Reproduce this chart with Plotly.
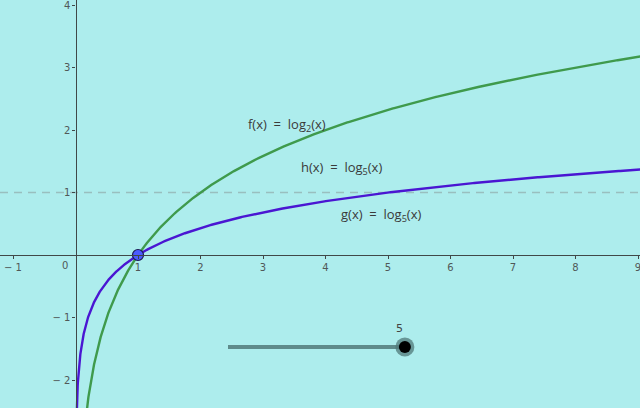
import numpy as np
import plotly.graph_objects as go

# ---- data ----
x_ticks = [-1, 1, 2, 3, 4, 5, 6, 7, 8, 9]
x_tick_labels = ["− 1", "1", "2", "3", "4", "5", "6", "7", "8", "9"]
y_ticks = [-2, -1, 1, 2, 3, 4]
y_tick_labels = ["− 2", "− 1", "1", "2", "3", "4"]
f_base = 2
g_base = 5
x_samples = np.concatenate([np.linspace(0.01, 1, 400), np.linspace(1, 9.1, 400)])
f_values = np.log(x_samples) / np.log(f_base)
g_values = np.log(x_samples) / np.log(g_base)
point_x = [1]
point_y = [0]
asymptote_y = 1
slider_value = 5
slider_start = 2.44
slider_end = 5.27
slider_y = -1.472

X_RANGE = [-1.208, 9.032]
Y_RANGE = [-2.448, 4.08]

BG = "#ADEDED"
GREEN = "#3F9A4C"
BLUE = "#4A16D2"
AXIS = "#404848"
TXT = "#3a3a3a"

fig = go.Figure()

# dashed line y = 1
fig.add_trace(go.Scatter(x=X_RANGE, y=[asymptote_y, asymptote_y], mode="lines",
                         line=dict(color="rgba(140,160,160,0.6)", width=1.5, dash="8px,6px"),
                         hoverinfo="skip", showlegend=False))

fig.add_trace(go.Scatter(x=x_samples, y=f_values, mode="lines",
                         line=dict(color=GREEN, width=2.4), showlegend=False))
fig.add_trace(go.Scatter(x=x_samples, y=g_values, mode="lines",
                         line=dict(color=BLUE, width=2.4), showlegend=False))

fig.add_trace(go.Scatter(x=point_x, y=point_y, mode="markers",
                         marker=dict(size=11, color="#4B5BFF", line=dict(color="#1a1a50", width=1.2)),
                         showlegend=False))

# slider
fig.add_trace(go.Scatter(x=[slider_start, slider_end], y=[slider_y, slider_y], mode="lines",
                         line=dict(color="#5E8B8B", width=4), showlegend=False, hoverinfo="skip"))
fig.add_trace(go.Scatter(x=[slider_end], y=[slider_y], mode="markers",
                         marker=dict(size=19, color="rgba(80,120,120,0.75)"),
                         showlegend=False, hoverinfo="skip"))
fig.add_trace(go.Scatter(x=[slider_end], y=[slider_y], mode="markers",
                         marker=dict(size=12, color="#000000"),
                         showlegend=False, hoverinfo="skip"))

fig.add_annotation(x=slider_end - 0.09, y=slider_y + 0.3, text=str(slider_value), showarrow=False,
                   font=dict(size=11, color="#444", family="DejaVu Sans"))

lab_font = dict(size=13, color=TXT, family="Open Sans")
fig.add_annotation(x=3.38, y=2.08, text="f(x)  =  log<sub>2</sub>(x)", showarrow=False, font=lab_font)
fig.add_annotation(x=4.26, y=1.39, text="h(x)  =  log<sub>5</sub>(x)", showarrow=False, font=lab_font)
fig.add_annotation(x=4.89, y=0.64, text="g(x)  =  log<sub>5</sub>(x)", showarrow=False, font=lab_font)

fig.add_annotation(x=-0.17, y=-0.16, text="0", showarrow=False,
                   font=dict(size=10, color="#505858", family="DejaVu Sans"))

ypos = (0 - Y_RANGE[0]) / (Y_RANGE[1] - Y_RANGE[0])
xpos = (0 - X_RANGE[0]) / (X_RANGE[1] - X_RANGE[0])

tickfont = dict(size=10, color="#505858", family="DejaVu Sans")
fig.update_layout(
    width=640, height=408,
    margin=dict(l=0, r=0, t=0, b=0),
    paper_bgcolor=BG, plot_bgcolor=BG,
    xaxis=dict(range=X_RANGE, showgrid=False, zeroline=False, automargin=False,
               anchor="free", position=ypos, showline=True, linecolor=AXIS, linewidth=1.3,
               ticks="outside", ticklen=3, tickcolor=AXIS, ticklabeloverflow="allow",
               tickvals=x_ticks, ticktext=x_tick_labels, tickfont=tickfont),
    yaxis=dict(range=Y_RANGE, showgrid=False, zeroline=False, automargin=False,
               anchor="free", position=xpos, showline=True, linecolor=AXIS, linewidth=1.3,
               ticks="outside", ticklen=3, tickcolor=AXIS, ticklabeloverflow="allow",
               tickvals=y_ticks, ticktext=y_tick_labels, tickfont=tickfont),
    showlegend=False,
)

fig.write_html("out.html", config={"displayModeBar": False},
               post_script="document.body.style.margin='0';document.body.style.overflow='hidden';")
